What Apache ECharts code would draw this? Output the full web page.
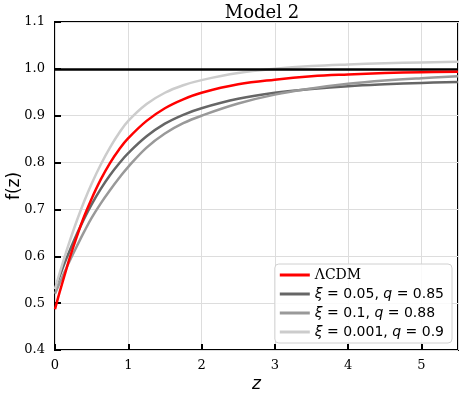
<!DOCTYPE html>
<html>
<head>
<meta charset="utf-8">
<script src="https://cdn.jsdelivr.net/npm/echarts@6/dist/echarts.min.js"></script>
<style>
  html, body { margin: 0; padding: 0; background: #fff; }
  #chart { width: 463px; height: 397px; }
</style>
</head>
<body>
<div id="chart"></div>
<script>
// redshift samples
const zValues = [0, 0.05, 0.1, 0.15, 0.2, 0.3, 0.4, 0.5, 0.625, 0.75, 0.875, 1, 1.25, 1.5, 1.75, 2, 2.5, 3, 3.5, 4, 4.5, 5, 5.5]
// growth rate f(z)
const lcdm = [0.487, 0.516, 0.543, 0.570, 0.596, 0.643, 0.686, 0.723, 0.764, 0.799, 0.828, 0.852, 0.889, 0.916, 0.935, 0.949, 0.967, 0.977, 0.984, 0.988, 0.991, 0.993, 0.994]
const xi005 = [0.53, 0.552, 0.573, 0.593, 0.612, 0.648, 0.681, 0.711, 0.744, 0.773, 0.798, 0.82, 0.856, 0.883, 0.902, 0.916, 0.936, 0.949, 0.957, 0.963, 0.967, 0.970, 0.972]
const xi01 = [0.52, 0.538, 0.556, 0.573, 0.59, 0.622, 0.653, 0.682, 0.713, 0.741, 0.767, 0.791, 0.832, 0.862, 0.884, 0.9, 0.926, 0.945, 0.958, 0.968, 0.975, 0.980, 0.984]
const xi0001 = [0.53, 0.557, 0.583, 0.608, 0.632, 0.677, 0.718, 0.755, 0.796, 0.832, 0.863, 0.889, 0.925, 0.949, 0.965, 0.976, 0.991, 1.0, 1.006, 1.0095, 1.012, 1.0138, 1.015]
const seriesNames = ['ΛCDM', 'ξ = 0.05, q = 0.85', 'ξ = 0.1, q = 0.88', 'ξ = 0.001, q = 0.9']
const legendText = [
  '{s|ΛCDM}',
  '{i|ξ} = 0.05, {i|q} = 0.85',
  '{i|ξ} = 0.1, {i|q} = 0.88',
  '{i|ξ} = 0.001, {i|q} = 0.9'
]
const colors = ['#ff0000', '#666666', '#999999', '#cccccc']

const chart = echarts.init(document.getElementById('chart'))

const pair = arr => zValues.map((z, i) => [z, arr[i]])
const allData = [lcdm, xi005, xi01, xi0001]

const series = allData.map((arr, i) => ({
  name: seriesNames[i],
  type: 'line',
  data: pair(arr),
  smooth: 0.4,
  symbol: 'none',
  z: i === 0 ? 5 : 3,
  lineStyle: { color: colors[i], width: 2.5 },
  itemStyle: { color: colors[i] }
}))
// reference line f = 1
series[0].markLine = {
  silent: true,
  symbol: 'none',
  label: { show: false },
  lineStyle: { color: '#000', width: 2.5, type: 'solid' },
  data: [{ yAxis: 1 }]
}

const serif = 'DejaVu Serif'
const sans = 'DejaVu Sans'

chart.setOption({
  animation: false,
  title: {
    text: 'Model 2',
    left: 257,
    top: -1,
    textAlign: 'center',
    textStyle: { fontFamily: serif, fontSize: 18, fontWeight: 'normal', color: '#000' }
  },
  grid: {
    left: 55, right: 5, top: 22, bottom: 47,
    containLabel: false,
    outerBoundsMode: 'none',
    show: true, borderColor: '#000', borderWidth: 2
  },
  legend: {
    orient: 'vertical',
    right: 11,
    bottom: 54,
    backgroundColor: 'rgba(255,255,255,0.85)',
    borderColor: '#d0d0d0',
    borderWidth: 1,
    borderRadius: 4,
    padding: [4, 8, 4, 5],
    itemGap: 5,
    itemWidth: 30,
    itemHeight: 3,
    icon: 'rect',
    data: seriesNames,
    formatter: name => legendText[seriesNames.indexOf(name)],
    textStyle: {
      fontFamily: sans,
      fontSize: 14,
      color: '#000',
      rich: {
        i: { fontFamily: sans, fontStyle: 'italic', fontSize: 14, color: '#000' },
        s: { fontFamily: serif, fontSize: 14, color: '#000' }
      }
    }
  },
  xAxis: {
    type: 'value',
    min: 0,
    max: 5.5,
    interval: 1,
    name: 'z',
    nameLocation: 'middle',
    nameGap: 26,
    nameMoveOverlap: false,
    nameTextStyle: { fontFamily: sans, fontStyle: 'italic', fontSize: 17, color: '#000' },
    axisLine: { show: false },
    axisTick: { show: true, inside: true, length: 6, lineStyle: { color: '#000', width: 2 } },
    axisLabel: {
      fontFamily: serif, fontSize: 13, color: '#000', margin: 9,
      showMaxLabel: false,
      formatter: v => (Number.isInteger(v) ? String(v) : '')
    },
    splitLine: { show: true, lineStyle: { color: '#dddddd', width: 1 } }
  },
  yAxis: {
    type: 'value',
    min: 0.4,
    max: 1.1,
    interval: 0.1,
    name: 'f(z)',
    nameLocation: 'middle',
    nameGap: 32,
    nameMoveOverlap: false,
    nameTextStyle: { fontFamily: sans, fontSize: 17, color: '#000' },
    axisLine: { show: false },
    axisTick: { show: true, inside: true, length: 6, lineStyle: { color: '#000', width: 2 } },
    axisLabel: {
      fontFamily: serif, fontSize: 13, color: '#000', margin: 10,
      formatter: v => v.toFixed(1)
    },
    splitLine: { show: true, lineStyle: { color: '#dddddd', width: 1 } }
  },
  series: series
})
</script>
</body>
</html>
